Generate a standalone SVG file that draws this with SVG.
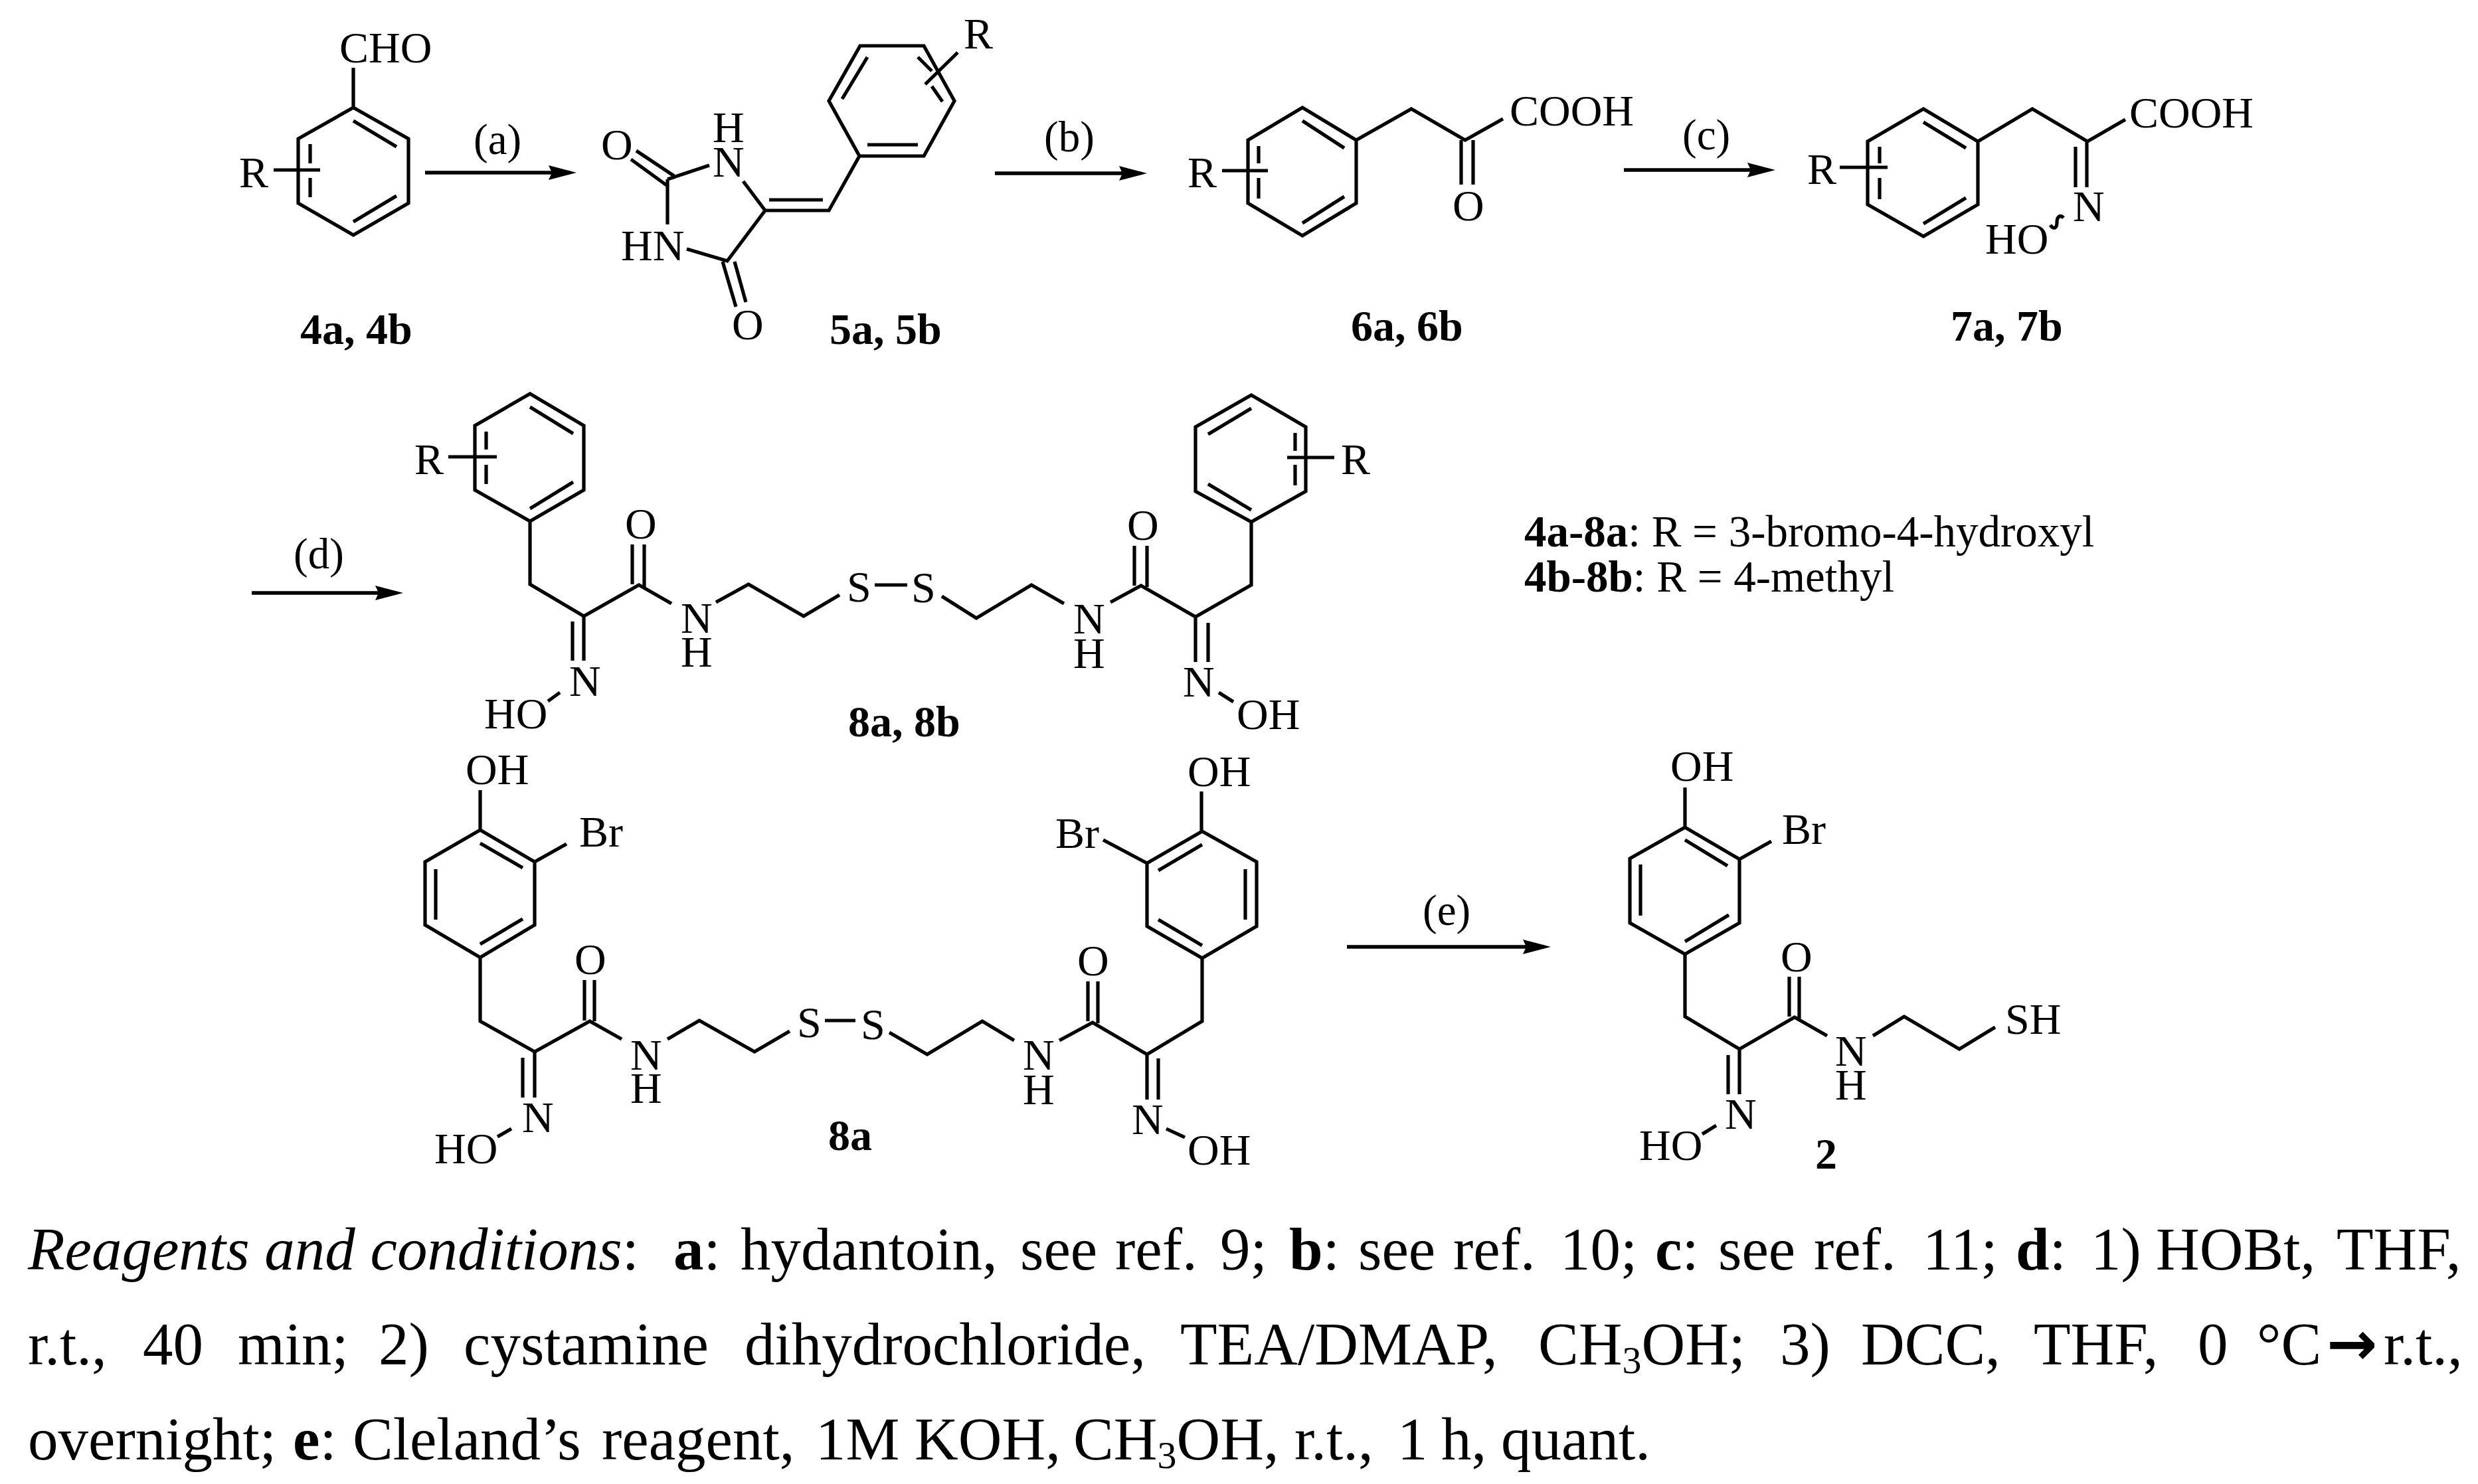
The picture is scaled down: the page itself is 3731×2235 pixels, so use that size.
<svg xmlns="http://www.w3.org/2000/svg" width="3731" height="2235" viewBox="0 0 3731 2235">
<style>
text{font-family:"Liberation Serif","Times New Roman",serif;fill:#000}
.t{font-size:66px}
.l{font-size:66px;font-weight:bold}
.g{font-size:67px}
.a{font-size:65px}
.c{font-size:91px}
.s{font-size:58px}
.b{font-weight:bold}
.i{font-style:italic}
.ar{font-family:"DejaVu Sans",sans-serif;font-weight:bold}
.bond{fill:none;stroke:#000;stroke-width:5.2;stroke-linejoin:miter;stroke-linecap:butt}
.arrow{fill:none;stroke:#000;stroke-width:5.5}
</style>
<defs>
<marker id="head" markerUnits="userSpaceOnUse" markerWidth="46" markerHeight="26" refX="32" refY="13" orient="auto">
<path d="M0,2 L42,13 L0,24 L5,13 Z" fill="#000"/>
</marker>
</defs>
<rect width="3731" height="2235" fill="#fff"/>

<g id="connectors">
<line class="arrow" x1="640" y1="260" x2="858" y2="260" marker-end="url(#head)"/>
<line class="arrow" x1="1498" y1="261" x2="1717" y2="261" marker-end="url(#head)"/>
<line class="arrow" x1="2445" y1="256" x2="2663" y2="256" marker-end="url(#head)"/>
<line class="arrow" x1="379" y1="893" x2="597" y2="893" marker-end="url(#head)"/>
<line class="arrow" x1="2028" y1="1426" x2="2325" y2="1426" marker-end="url(#head)"/>
<text class="a" x="713" y="232">(a)</text>
<text class="a" x="1572" y="228">(b)</text>
<text class="a" x="2533" y="225">(c)</text>
<text class="a" x="442" y="856">(d)</text>
<text class="a" x="2142" y="1393">(e)</text>
</g>

<g id="node-4">
<path class="bond" d="M532,162 L615,209 V306 L532,354 L449,306 V209 Z M532,102 V162 M532,182 L597,221 M597,295 L532,334 M467,217 V246 M467,268 V297 M412,256 H482"/>
<text class="t" x="511" y="94">CHO</text>
<text class="t" x="360" y="282">R</text>
<text class="l" x="452" y="518">4a, 4b</text>
</g>

<g id="node-5">
<path class="bond" d="M1005,270 L1068,249 M1005,270 V338 M1034,375 L1095,393 L1152,317 L1119,273 M1152,317 H1248 L1294,235 M1158,301 H1239 M958,227 L1015,265 M950,240 L1005,280 M1088,394 L1108,462 M1106,394 L1123,455"/>
<path class="bond" d="M1294,235 H1391 L1437,152 L1391,69 H1295 L1248,152 Z M1306,218 H1382 M1306,86 L1268,149 M1382,86 L1403,107 M1403,130 L1419,153 M1442,79 L1393,127"/>
<text class="t" x="1451" y="73">R</text>
<text class="t" x="905" y="240">O</text>
<text class="t" x="1073" y="214">H</text>
<text class="t" x="1073" y="266">N</text>
<text class="t" x="935" y="392">HN</text>
<text class="t" x="1102" y="511">O</text>
<text class="l" x="1249" y="518">5a, 5b</text>
</g>

<g id="node-6">
<path class="bond" d="M1961,162 L2042,211 V306 L1961,355 L1879,306 V211 Z M1961,182 L2024,223 M2024,296 L1961,336 M1895,220 V246 M1895,268 V299 M1840,257 H1909 M2042,211 L2125,164 L2206,211 L2263,179 M2200,211 V278 M2218,211 V278"/>
<text class="t" x="1788" y="282">R</text>
<text class="t" x="2273" y="189">COOH</text>
<text class="t" x="2187" y="332">O</text>
<text class="l" x="2034" y="513">6a, 6b</text>
</g>

<g id="node-7">
<path class="bond" d="M2896,164 L2978,213 V308 L2896,356 L2812,308 V213 Z M2896,184 L2960,223 M2960,298 L2896,337 M2830,221 V246 M2830,268 V300 M2770,252 H2842 M2978,213 L3060,164 L3143,213 L3200,180 M3125,221 V282 M3142,213 V282"/>
<path class="bond" d="M3087,339 C3092,346 3097,344 3097,335 C3097,326 3102,323 3107,328"/>
<text class="t" x="2721" y="277">R</text>
<text class="t" x="3206" y="192">COOH</text>
<text class="t" x="3121" y="333">N</text>
<text class="t" x="2989" y="382">HO</text>
<text class="l" x="2937" y="513">7a, 7b</text>
</g>

<g id="node-8-general">
<path class="bond" d="M798,593 L879,641 V738 L798,785 L715,738 V641 Z M798,613 L863,653 M863,726 L798,766 M732,650 V677 M732,700 V729 M675,688 H748"/>
<path class="bond" d="M798,785 V880 L879,928 L962,881 L1011,909 M952,820 V880 M970,820 V884 M1078,907 L1127,880 L1210,928 L1264,896 M1317,881 H1366 M1418,898 L1470,931 L1553,881 L1602,909 M1672,907 L1718,882 L1800,929 L1884,881 V786 M1708,822 V882 M1727,822 V884"/>
<path class="bond" d="M1884,595 L1800,643 V740 L1884,786 L1966,740 V643 Z M1884,615 L1819,654 M1819,729 L1884,768 M1950,652 V679 M1950,700 V731 M1938,689 H2009"/>
<path class="bond" d="M862,936 V995 M879,929 V995 M843,1043 L825,1056 M1800,929 V997 M1819,938 V997 M1835,1043 L1857,1057"/>
<text class="t" x="624" y="714">R</text>
<text class="t" x="2019" y="714">R</text>
<text class="t" x="941" y="811">O</text>
<text class="t" x="1697" y="813">O</text>
<text class="t" x="1025" y="953">N</text>
<text class="t" x="1025" y="1004">H</text>
<text class="t" x="1616" y="954">N</text>
<text class="t" x="1616" y="1006">H</text>
<text class="t" x="1275" y="906">S</text>
<text class="t" x="1372" y="907">S</text>
<text class="t" x="857" y="1048">N</text>
<text class="t" x="1781" y="1049">N</text>
<text class="t" x="729" y="1097">HO</text>
<text class="t" x="1862" y="1098">OH</text>
<text class="l" x="1277" y="1109">8a, 8b</text>
</g>

<g id="legend">
<text class="g" x="2295" y="823"><tspan class="b">4a-8a</tspan>: R = 3-bromo-4-hydroxyl</text>
<text class="g" x="2295" y="891"><tspan class="b">4b-8b</tspan>: R = 4-methyl</text>
</g>

<g id="node-8a">
<path class="bond" d="M723,1250 L805,1298 V1393 L723,1442 L640,1393 V1298 Z M723,1190 V1250 M723,1270 L787,1307 M787,1384 L723,1422 M656,1309 V1385 M805,1298 L853,1271"/>
<path class="bond" d="M723,1442 V1538 L805,1584 L888,1538 L936,1565 M880,1476 V1537 M895,1476 V1538 M1005,1565 L1053,1537 L1136,1584 L1189,1553 M1242,1537 H1288 M1339,1555 L1396,1588 L1479,1538 L1527,1567 M1595,1567 L1645,1540 L1727,1588 L1810,1538 V1443 M1638,1478 V1538 M1653,1478 V1541"/>
<path class="bond" d="M1810,1252 L1727,1300 V1395 L1810,1443 L1892,1395 V1298 Z M1810,1272 L1744,1311 M1744,1385 L1810,1424 M1875,1309 V1385 M1809,1192 V1252 M1661,1265 L1727,1300"/>
<path class="bond" d="M787,1593 V1653 M805,1584 V1653 M770,1700 L749,1712 M1727,1588 V1656 M1744,1594 V1656 M1756,1700 L1784,1713"/>
<text class="t" x="701" y="1181">OH</text>
<text class="t" x="872" y="1275">Br</text>
<text class="t" x="865" y="1467">O</text>
<text class="t" x="949" y="1611">N</text>
<text class="t" x="949" y="1661">H</text>
<text class="t" x="1200" y="1562">S</text>
<text class="t" x="1296" y="1565">S</text>
<text class="t" x="1540" y="1611">N</text>
<text class="t" x="1540" y="1663">H</text>
<text class="t" x="1622" y="1469">O</text>
<text class="t" x="1788" y="1184">OH</text>
<text class="t" x="1589" y="1277">Br</text>
<text class="t" x="786" y="1705">N</text>
<text class="t" x="654" y="1752">HO</text>
<text class="t" x="1704" y="1708">N</text>
<text class="t" x="1788" y="1754">OH</text>
<text class="l" x="1247" y="1732">8a</text>
</g>

<g id="node-2">
<path class="bond" d="M2537,1246 L2619,1294 V1390 L2537,1437 L2454,1390 V1293 Z M2537,1186 V1246 M2537,1265 L2601,1304 M2603,1378 L2537,1418 M2470,1302 V1379 M2619,1294 L2667,1267"/>
<path class="bond" d="M2537,1437 V1531 L2619,1580 L2702,1532 L2751,1560 M2694,1471 V1531 M2709,1471 V1534 M2820,1560 L2867,1531 L2950,1580 L3004,1547 M2602,1589 V1648 M2619,1580 V1648 M2584,1695 L2563,1708"/>
<text class="t" x="2515" y="1176">OH</text>
<text class="t" x="2683" y="1271">Br</text>
<text class="t" x="2681" y="1463">O</text>
<text class="t" x="2763" y="1605">N</text>
<text class="t" x="2763" y="1656">H</text>
<text class="t" x="3019" y="1557">SH</text>
<text class="t" x="2597" y="1700">N</text>
<text class="t" x="2468" y="1747">HO</text>
<text class="l" x="2733" y="1760">2</text>
</g>

<g id="caption">
<text class="c" y="1912"><tspan class="i" x="42">Reagents and conditions</tspan>:<tspan class="b" x="1014">a</tspan>:<tspan x="1115">hydantoin,</tspan><tspan x="1536">see</tspan><tspan x="1679">ref.</tspan><tspan x="1837">9;</tspan><tspan class="b" x="1941">b</tspan>:<tspan x="2045">see</tspan><tspan x="2188">ref.</tspan><tspan x="2349">10;</tspan><tspan class="b" x="2492">c</tspan>:<tspan x="2587">see</tspan><tspan x="2731">ref.</tspan><tspan x="2895">11;</tspan><tspan class="b" x="3035">d</tspan>:<tspan x="3148">1)</tspan><tspan x="3246">HOBt,</tspan><tspan x="3518">THF,</tspan></text>
<text class="c" y="2055"><tspan x="42">r.t.,</tspan><tspan x="215">40</tspan><tspan x="358">min;</tspan><tspan x="570">2)</tspan><tspan x="698">cystamine</tspan><tspan x="1121">dihydrochloride,</tspan><tspan x="1777">TEA/DMAP,</tspan><tspan x="2316">CH</tspan><tspan class="s" y="2068">3</tspan><tspan y="2055">OH;</tspan><tspan x="2680">3)</tspan><tspan x="2802">DCC,</tspan><tspan x="3062">THF,</tspan><tspan x="3309">0</tspan><tspan x="3398">°C</tspan><tspan class="ar" x="3503">→</tspan><tspan x="3589">r.t.,</tspan></text>
<text class="c" y="2198"><tspan x="42">overnight;</tspan><tspan class="b" x="441">e</tspan>:<tspan x="531">Cleland’s</tspan><tspan x="906">reagent,</tspan><tspan x="1228">1M</tspan><tspan x="1377">KOH,</tspan><tspan x="1616">CH</tspan><tspan class="s" y="2211">3</tspan><tspan y="2198">OH,</tspan><tspan x="1949">r.t.,</tspan><tspan x="2104">1</tspan><tspan x="2170">h,</tspan><tspan x="2260">quant.</tspan></text>
</g>
</svg>
